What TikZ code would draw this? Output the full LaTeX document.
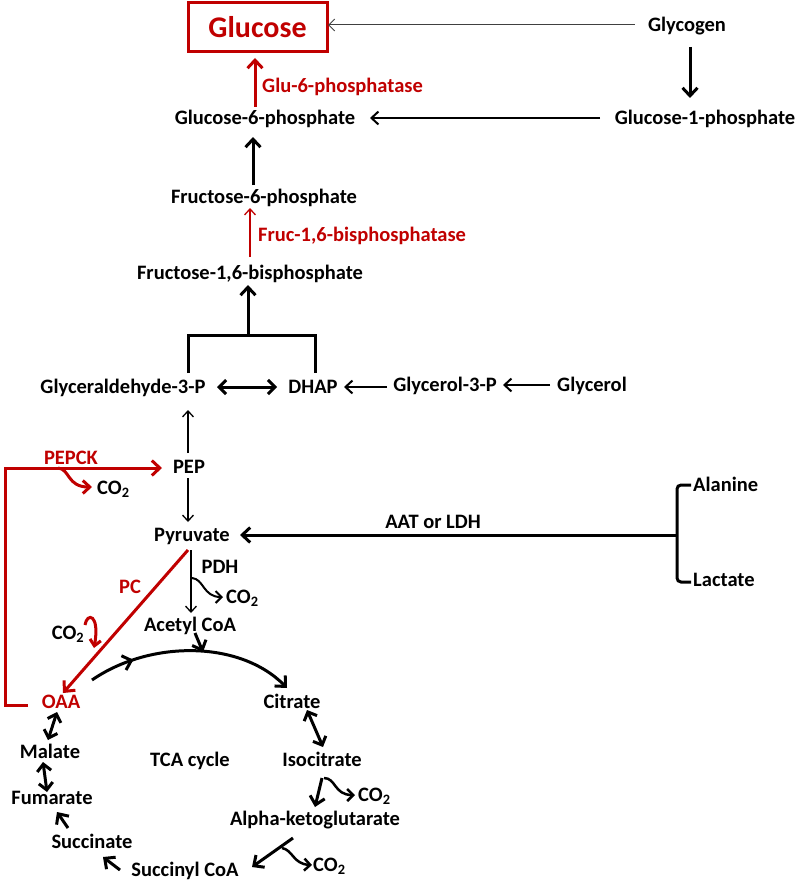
\documentclass[tikz,border=0pt]{standalone}
\usepackage{fontspec}
\setmainfont{Carlito}
\usetikzlibrary{arrows.meta,decorations.markings}
\definecolor{dred}{RGB}{192,0,0}
\newcommand{\cotwo}{CO\textsubscript{2}}
\begin{document}
\begin{tikzpicture}[x=1pt,y=-1pt,
  lbl/.style={font=\fontsize{20.5}{22}\selectfont\bfseries, inner sep=0pt, text height=13pt, text depth=0pt},
  rlbl/.style={lbl, text=dred},
  thickarr/.style={line width=3pt, -{Straight Barb[length=8pt,width=15pt]}},
  medarr/.style={line width=2pt, -{Straight Barb[length=7pt,width=13pt]}},
  thinarr/.style={line width=1.3pt, -{Straight Barb[length=6pt,width=11pt]}},
  dblarr/.style={line width=3pt, {Straight Barb[length=7pt,width=14pt]}-{Straight Barb[length=7pt,width=14pt]}},
  redarr/.style={draw=dred, line width=3pt, -{Straight Barb[length=8pt,width=15pt]}},
  squig/.style={line width=2pt, -{Straight Barb[length=6pt,width=12pt]}}
]
\useasboundingbox (0,0) rectangle (797,880);

% nodes
\node[draw=dred, line width=3pt, minimum width=139pt, minimum height=49pt, inner sep=0pt,
      text=dred, font=\fontsize{30}{32}\selectfont\bfseries] (glucose) at (257.5,27.5) {Glucose};
\node[lbl] (glycogen) at (687,25) {Glycogen};
\node[lbl] (g6p) at (265,118) {Glucose-6-phosphate};
\node[lbl] (g1p) at (705,118) {Glucose-1-phosphate};
\node[rlbl, anchor=west] (glu6) at (262,86) {Glu-6-phosphatase};
\node[lbl] (f6p) at (264,197) {Fructose-6-phosphate};
\node[rlbl, anchor=west] (fruc) at (258,235) {Fruc-1,6-bisphosphatase};
\node[lbl] (f16bp) at (250,273) {Fructose-1,6-bisphosphate};
\node[lbl] (g3p) at (123,387) {Glyceraldehyde-3-P};
\node[lbl] (dhap) at (313,387) {DHAP};
\node[lbl] (gly3p) at (445,385) {Glycerol-3-P};
\node[lbl] (glycerol) at (592,385) {Glycerol};
\node[lbl] (pep) at (189,467) {PEP};
\node[rlbl] (pepck) at (71,458) {PEPCK};
\node[lbl, anchor=west] (co2a) at (97,488) {\cotwo};
\node[lbl] (pyr) at (192,535) {Pyruvate};
\node[lbl] (aat) at (433,522) {AAT or LDH};
\node[lbl, anchor=west] (alanine) at (693,485) {Alanine};
\node[lbl, anchor=west] (lactate) at (693,580) {Lactate};
\node[lbl] (pdh) at (220,567) {PDH};
\node[lbl, anchor=west] (co2b) at (226,597) {\cotwo};
\node[rlbl] (pc) at (130,587) {PC};
\node[lbl] (co2c) at (68,633) {\cotwo};
\node[lbl] (acoa) at (190,625) {Acetyl CoA};
\node[rlbl] (oaa) at (61,702) {OAA};
\node[lbl] (citrate) at (292,702) {Citrate};
\node[lbl] (isocit) at (322,760) {Isocitrate};
\node[lbl] (akg) at (315,819) {Alpha-ketoglutarate};
\node[lbl, anchor=west] (co2d) at (358,795) {\cotwo};
\node[lbl] (succoa) at (185,870) {Succinyl CoA};
\node[lbl, anchor=west] (co2e) at (313,865) {\cotwo};
\node[lbl] (succinate) at (92,842) {Succinate};
\node[lbl] (fumarate) at (52,798) {Fumarate};
\node[lbl] (malate) at (50,752) {Malate};
\node[lbl] (tca) at (190,760) {TCA cycle};

% coordinates
\coordinate (brL) at (188,373);
\coordinate (brR) at (315,373);
\coordinate (brM) at (248,335);
\coordinate (brace) at (677,535);
\coordinate (pcStart) at (188,550);
\coordinate (pcEnd) at (63,693);
\coordinate (arcS) at (92,680);
\coordinate (arcE) at (287,688);

% top
\draw[line width=1pt, black!75, -{Straight Barb[length=6pt,width=12pt]}] (glycogen.west) ++(-13,0) -- (328,25);
\draw[thickarr] (690,47) -- (690,98);
\draw[medarr] (600,118) -- (370,118);
\draw[redarr] (255,107) -- (255,58);
\draw[thickarr] (253,185) -- (253,137);
\draw[draw=dred, line width=1.3pt, -{Straight Barb[length=6pt,width=11pt]}] (250,257) -- (250,208);

% bracket
\draw[line width=3pt] (brL) -- (188,335) -- (315,335) -- (brR);
\draw[thickarr] (brM) -- (248,285);

% glyceraldehyde row
\draw[dblarr] (217,387) -- (277,387);
\draw[medarr] (387,387) -- (344,387);
\draw[medarr] (550,385) -- (503,385);

% PEP
\draw[thinarr] (188,453) -- (188,410);
\draw[thinarr] (188,478) -- (188,522);

% PEPCK red
\draw[redarr] (28,705) -- (5,705) -- (5,468) -- (162,468);
\draw[draw=dred, line width=3pt, -{Straight Barb[length=7pt,width=13pt]}] (58,468) .. controls (70,469) and (67,487) .. (92,487);

% Alanine/Lactate brace
\draw[line width=3pt, rounded corners=4pt] (691,485) -- (677,485) -- (677,582) -- (691,582);
\draw[thickarr] (brace) -- (240,535);

% PDH
\draw[thinarr] (191,550) -- (191,613);
\draw[squig] (192,578) .. controls (204,579) and (203,597) .. (223,597);
\draw[thickarr] (195,633) -- (203,652);

% PC
\draw[redarr] (pcStart) -- (pcEnd);
\draw[draw=dred, line width=3pt, -{Straight Barb[length=6pt,width=11pt]}] (85,625) .. controls (87,612) and (100,614) .. (94,648);

% TCA arc
\draw[line width=3pt, -{Straight Barb[length=8pt,width=15pt]},
  decoration={markings, mark=at position 0.22 with {\arrow{Straight Barb[length=8pt,width=15pt]}}},
  postaction=decorate] (arcS) .. controls (150,640) and (240,640) .. (arcE);

% TCA steps
\draw[dblarr] (57,712) -- (48,740);
\draw[dblarr] (43,762) -- (47,792);
\draw[thickarr] (68,828) -- (57,812);
\draw[thickarr] (120,870) -- (103,857);
\draw[dblarr] (307,710) -- (323,747);
\draw[thickarr] (322,778) -- (315,807);
\draw[squig, line width=2.5pt] (324,778) .. controls (336,778) and (334,795) .. (355,795);
\draw[thickarr] (293,838) -- (252,867);
\draw[squig, line width=2.5pt] (282,848) .. controls (293,850) and (293,864) .. (312,865);
\end{tikzpicture}
\end{document}
